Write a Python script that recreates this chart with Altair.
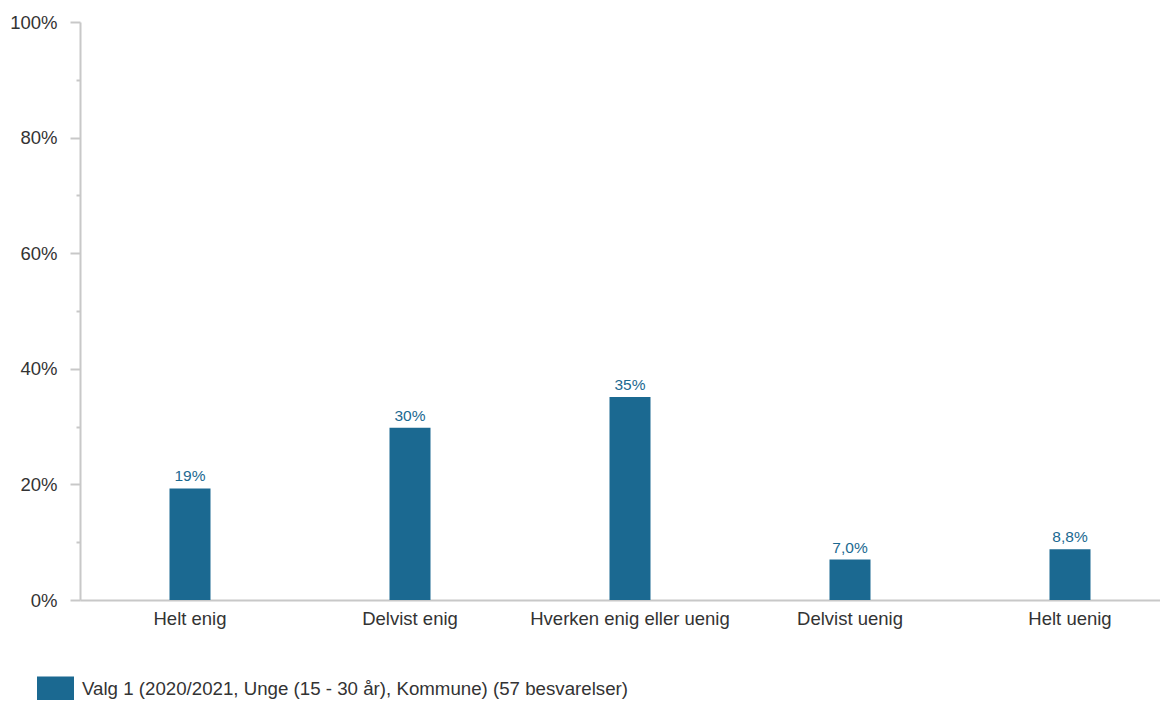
import altair as alt
import pandas as pd

categories = ["Helt enig", "Delvist enig", "Hverken enig eller uenig", "Delvist uenig", "Helt uenig"]
values = [19.3, 29.8, 35.1, 7.0, 8.8]
value_labels = ["19%", "30%", "35%", "7,0%", "8,8%"]
series_name = "Valg 1 (2020/2021, Unge (15 - 30 år), Kommune) (57 besvarelser)"

BLUE = "#1b6991"
GRAY = "#c8c8c8"
FONT = "Liberation Sans"

df = pd.DataFrame({
    "kategori": categories,
    "verdi": values,
    "etikett": value_labels,
    "serie": [series_name] * len(categories),
})

x_enc = alt.X(
    "kategori:N",
    sort=categories,
    scale=alt.Scale(paddingInner=0, paddingOuter=0),
    axis=alt.Axis(
        title=None,
        labelAngle=0,
        ticks=False,
        domainColor=GRAY,
        domainWidth=2,
        labelFont=FONT,
        labelFontSize=18.5,
        labelColor="#333333",
        labelPadding=9,
        labelLimit=400,
    ),
)

y_enc = alt.Y(
    "verdi:Q",
    scale=alt.Scale(domain=[0, 100], nice=False),
    axis=alt.Axis(
        title=None,
        values=list(range(0, 101, 10)),
        grid=False,
        domainColor=GRAY,
        domainWidth=2,
        tickColor=GRAY,
        tickWidth=2,
        tickSize={"condition": {"test": "datum.value % 20 === 0", "value": 10}, "value": 4},
        labelExpr="datum.value % 20 === 0 ? datum.value + '%' : ''",
        labelFont=FONT,
        labelFontSize=18.5,
        labelColor="#333333",
        labelPadding=13,
    ),
)

bars = alt.Chart(df).mark_bar(size=41).encode(
    x=x_enc,
    y=y_enc,
    color=alt.Color(
        "serie:N",
        scale=alt.Scale(range=[BLUE]),
        legend=alt.Legend(
            title=None,
            orient="none",
            legendX=-43,
            legendY=648,
            symbolType="M-1,-0.65H1V0.65H-1Z",
            symbolSize=1369,
            symbolStrokeWidth=0,
            symbolOpacity=1,
            labelFont=FONT,
            labelFontSize=18.7,
            labelColor="#333333",
            labelOffset=8,
            labelLimit=1000,
            padding=0,
        ),
    ),
)

text = alt.Chart(df).mark_text(
    baseline="alphabetic", dy=-7, font=FONT, fontSize=15.5, color=BLUE
).encode(
    x=alt.X("kategori:N", sort=categories),
    y=alt.Y("verdi:Q"),
    text="etikett:N",
)

chart = (bars + text).properties(
    width=1100,
    height=578,
    autosize=alt.AutoSizeParams(type="none"),
    padding={"left": 72, "top": 14, "right": -20, "bottom": 100},
).configure_view(stroke=None)

chart.save("out.html", embed_options={"renderer": "svg", "actions": False})
